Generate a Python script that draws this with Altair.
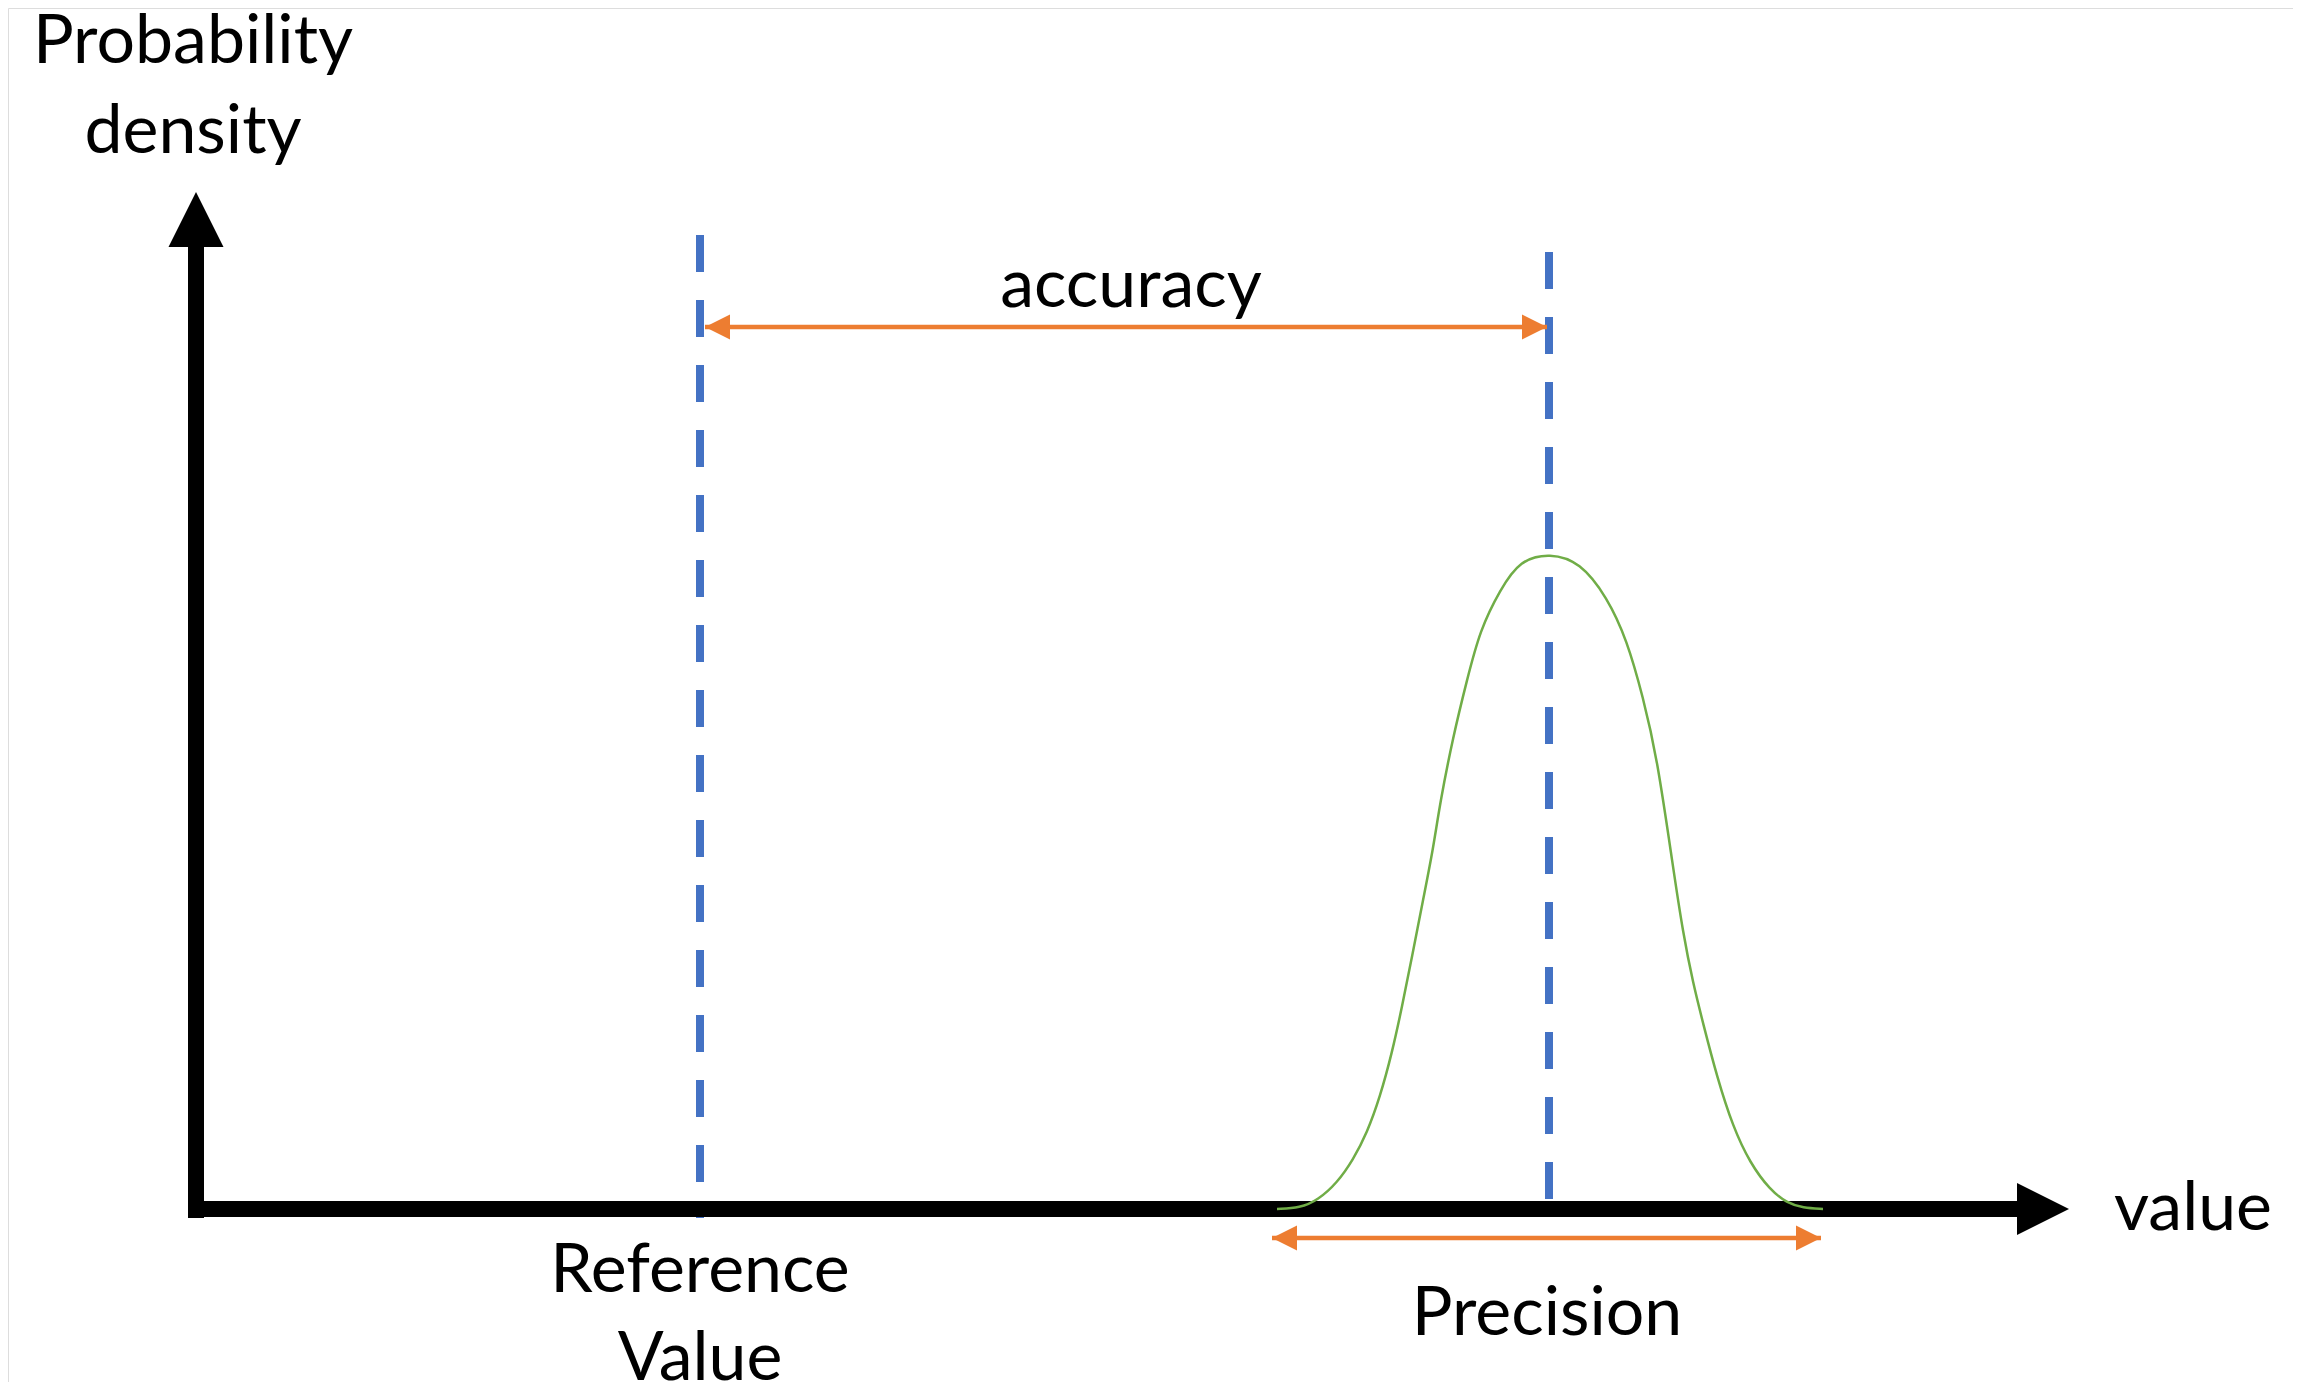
import altair as alt
import pandas as pd

# ---------------- data (diagram units: u along "value", v along "density"; origin at axis corner)
axis_u_start, axis_u_end, axis_u_tip = -8, 1826, 1873
axis_v_start, axis_v_end, axis_v_tip = -9, 965, 1017

ref_value = 504
measured_mean = 1353
dash_tops = [974, 957]
dash_bottom = -9

acc_level, acc_left, acc_right = 882, 509, 1351
prec_level, prec_left, prec_right = -29, 1076, 1625

curve_u = [1081, 1104, 1122, 1141, 1157, 1171, 1184, 1196, 1206, 1216, 1227, 1237, 1244, 1257,
           1271, 1284, 1304, 1324, 1354, 1384, 1411, 1431, 1447, 1461, 1477, 1487, 1497, 1507,
           1521, 1537, 1554, 1574, 1591, 1607, 1627]
curve_v = [0, 1, 9, 26, 49, 76, 112, 156, 202, 252, 309, 359, 406, 472,
           529, 579, 619, 649, 656, 647, 612, 569, 512, 452, 342, 276, 226, 186,
           132, 82, 46, 19, 6, 1, 0]

label_text = ["Probability", "density", "accuracy", "Reference", "Value", "Precision"]
label_u = [-3, -3, 935, 504, 504, 1351]
label_v = [1146, 1056, 902, -83, -171, -126]
axis_label = ["value"]
axis_label_u = [1918]
axis_label_v = [-21]

# ---------------- layout
W, H = 2285, 1374
xs = alt.Scale(domain=[-188, W - 188], nice=False, zero=False)
ys = alt.Scale(domain=[1201 - H, 1201], nice=False, zero=False)

BLUE, ORANGE, GREEN = "#4472C4", "#ED7D31", "#70AD47"
FONT, FS = "Lato", 68


def X(f):
    return alt.X(f, type="quantitative", scale=xs, axis=None)


def Y(f):
    return alt.Y(f, type="quantitative", scale=ys, axis=None)


# axes shafts
h_axis = pd.DataFrame({"u": [axis_u_start], "u2": [axis_u_end], "v": [0]})
v_axis = pd.DataFrame({"u": [0], "v": [axis_v_start], "v2": [axis_v_end]})
h_rule = alt.Chart(h_axis).mark_rule(color="black", strokeWidth=16, strokeCap="butt").encode(
    x=X("u"), x2="u2", y=Y("v"))
v_rule = alt.Chart(v_axis).mark_rule(color="black", strokeWidth=16, strokeCap="butt").encode(
    x=X("u"), y=Y("v"), y2="v2")

# axis arrowheads
up_head = pd.DataFrame({"u": [0], "v": [axis_v_tip - 27.5]})
right_head = pd.DataFrame({"u": [axis_u_tip - 26], "v": [0]})
up_mark = alt.Chart(up_head).mark_point(shape="M0,-1L1,1L-1,1Z", size=55 * 55, filled=True,
                                        color="black", opacity=1, strokeWidth=0).encode(x=X("u"), y=Y("v"))
right_mark = alt.Chart(right_head).mark_point(shape="M1,0L-1,-1L-1,1Z", size=52 * 52, filled=True,
                                              color="black", opacity=1, strokeWidth=0).encode(x=X("u"), y=Y("v"))

# dashed blue lines
dashes = pd.DataFrame({"u": [ref_value, measured_mean], "v": dash_tops, "v2": [dash_bottom, dash_bottom]})
dash_rule = alt.Chart(dashes).mark_rule(color=BLUE, strokeWidth=8, strokeDash=[37, 28],
                                        strokeCap="butt").encode(x=X("u"), y=Y("v"), y2="v2")

# gaussian curve
curve = pd.DataFrame({"u": curve_u, "v": curve_v, "i": list(range(len(curve_u)))})
curve_line = alt.Chart(curve).mark_line(color=GREEN, strokeWidth=2.5, interpolate="basis").encode(
    x=X("u"), y=Y("v"), order="i:Q")

# orange double arrows
arrows = pd.DataFrame({"u": [acc_left, prec_left], "u2": [acc_right, prec_right],
                       "v": [acc_level, prec_level]})
arrow_rule = alt.Chart(arrows).mark_rule(color=ORANGE, strokeWidth=4.5).encode(
    x=X("u"), x2="u2", y=Y("v"))
left_heads = pd.DataFrame({"u": [acc_left + 12.5, prec_left + 12.5], "v": [acc_level, prec_level]})
right_heads = pd.DataFrame({"u": [acc_right - 12.5, prec_right - 12.5], "v": [acc_level, prec_level]})
lh = alt.Chart(left_heads).mark_point(shape="M-1,0L1,-1L1,1Z", size=625, filled=True, color=ORANGE,
                                      opacity=1, strokeWidth=0).encode(x=X("u"), y=Y("v"))
rh = alt.Chart(right_heads).mark_point(shape="M1,0L-1,-1L-1,1Z", size=625, filled=True, color=ORANGE,
                                       opacity=1, strokeWidth=0).encode(x=X("u"), y=Y("v"))

# labels
labels = pd.DataFrame({"t": label_text, "u": label_u, "v": label_v})
lab = alt.Chart(labels).mark_text(font=FONT, fontSize=FS, color="black", align="center",
                                  baseline="alphabetic").encode(x=X("u"), y=Y("v"), text="t:N")
axl = pd.DataFrame({"t": axis_label, "u": axis_label_u, "v": axis_label_v})
ax_lab = alt.Chart(axl).mark_text(font=FONT, fontSize=FS, color="black", align="left",
                                  baseline="alphabetic").encode(x=X("u"), y=Y("v"), text="t:N")

chart = alt.layer(
    dash_rule, h_rule, v_rule, up_mark, right_mark, curve_line, arrow_rule, lh, rh, lab, ax_lab
).properties(
    width=W, height=H, autosize=alt.AutoSizeParams(type="none"), padding=0
).configure_view(strokeWidth=0, stroke="transparent").configure(background="transparent")

chart.save("out.html", embed_options={"renderer": "svg", "actions": False})
